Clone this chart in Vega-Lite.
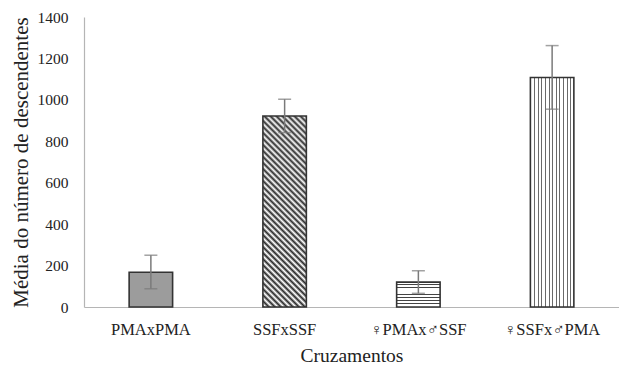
{
  "$schema": "https://vega.github.io/schema/vega-lite/v6.json",
  "autosize": "none",
  "width": 535,
  "height": 290,
  "padding": {"left": 84, "top": 17, "right": 0, "bottom": 58},
  "background": "white",
  "data": {"values": [
    {"c": "PMAxPMA", "mean": 168, "lo": 88, "hi": 250},
    {"c": "SSFxSSF", "mean": 922, "lo": 842, "hi": 1003},
    {"c": "♀PMAx♂SSF", "mean": 120, "lo": 66, "hi": 175},
    {"c": "♀SSFx♂PMA", "mean": 1108, "lo": 955, "hi": 1262}
  ]},
  "config": {
    "view": {"stroke": null},
    "font": "Liberation Serif",
    "axis": {"labelFont": "Liberation Serif, DejaVu Serif, DejaVu Sans", "titleFont": "Liberation Serif", "labelColor": "#222", "titleColor": "#222", "titleFontWeight": "normal", "domainColor": "#b5b5b5", "domainWidth": 1.2, "ticks": false, "grid": false}
  },
  "encoding": {
    "x": {"field": "c", "type": "nominal", "sort": null,
      "scale": {"paddingInner": 0.675, "paddingOuter": 0.3375},
      "axis": {"title": "Cruzamentos", "labelAngle": 0, "labelFont": "Liberation Serif, DejaVu Serif, DejaVu Sans", "labelFontSize": 16.5, "labelBaseline": "alphabetic", "labelPadding": 27, "titleFont": "Liberation Serif", "titleFontSize": 19.5, "titleBaseline": "alphabetic", "titleY": 54}}
  },
  "layer": [
    {
      "mark": {"type": "bar", "stroke": "#333", "strokeWidth": 1.6},
      "encoding": {
        "y": {"field": "mean", "type": "quantitative",
          "scale": {"domain": [0, 1400], "nice": false},
          "axis": {"values": [0, 200, 400, 600, 800, 1000, 1200, 1400], "format": "d", "labelFont": "Liberation Serif", "labelFontSize": 15.5, "labelPadding": 16, "title": "Média do número de descendentes", "titleFont": "Liberation Serif", "titleFontSize": 21, "titleAngle": -90, "titleX": -57, "titleY": 145, "titleBaseline": "alphabetic", "titleAlign": "center"}},
        "fill": {
          "condition": [
            {"test": "datum.c === 'SSFxSSF'", "value": {"gradient": "linear", "x1": 0, "y1": 1, "x2": 0.2658, "y2": -0.1672, "stops": [
              {"offset": 0, "color": "#2a2a2a"}, {"offset": 0.0128, "color": "#ffffff"},
              {"offset": 0.0256, "color": "#2a2a2a"}, {"offset": 0.0385, "color": "#ffffff"},
              {"offset": 0.0513, "color": "#2a2a2a"}, {"offset": 0.0641, "color": "#ffffff"},
              {"offset": 0.0769, "color": "#2a2a2a"}, {"offset": 0.0897, "color": "#ffffff"},
              {"offset": 0.1026, "color": "#2a2a2a"}, {"offset": 0.1154, "color": "#ffffff"},
              {"offset": 0.1282, "color": "#2a2a2a"}, {"offset": 0.1410, "color": "#ffffff"},
              {"offset": 0.1538, "color": "#2a2a2a"}, {"offset": 0.1667, "color": "#ffffff"},
              {"offset": 0.1795, "color": "#2a2a2a"}, {"offset": 0.1923, "color": "#ffffff"},
              {"offset": 0.2051, "color": "#2a2a2a"}, {"offset": 0.2179, "color": "#ffffff"},
              {"offset": 0.2308, "color": "#2a2a2a"}, {"offset": 0.2436, "color": "#ffffff"},
              {"offset": 0.2564, "color": "#2a2a2a"}, {"offset": 0.2692, "color": "#ffffff"},
              {"offset": 0.2821, "color": "#2a2a2a"}, {"offset": 0.2949, "color": "#ffffff"},
              {"offset": 0.3077, "color": "#2a2a2a"}, {"offset": 0.3205, "color": "#ffffff"},
              {"offset": 0.3333, "color": "#2a2a2a"}, {"offset": 0.3462, "color": "#ffffff"},
              {"offset": 0.3590, "color": "#2a2a2a"}, {"offset": 0.3718, "color": "#ffffff"},
              {"offset": 0.3846, "color": "#2a2a2a"}, {"offset": 0.3974, "color": "#ffffff"},
              {"offset": 0.4103, "color": "#2a2a2a"}, {"offset": 0.4231, "color": "#ffffff"},
              {"offset": 0.4359, "color": "#2a2a2a"}, {"offset": 0.4487, "color": "#ffffff"},
              {"offset": 0.4615, "color": "#2a2a2a"}, {"offset": 0.4744, "color": "#ffffff"},
              {"offset": 0.4872, "color": "#2a2a2a"}, {"offset": 0.5000, "color": "#ffffff"},
              {"offset": 0.5128, "color": "#2a2a2a"}, {"offset": 0.5256, "color": "#ffffff"},
              {"offset": 0.5385, "color": "#2a2a2a"}, {"offset": 0.5513, "color": "#ffffff"},
              {"offset": 0.5641, "color": "#2a2a2a"}, {"offset": 0.5769, "color": "#ffffff"},
              {"offset": 0.5897, "color": "#2a2a2a"}, {"offset": 0.6026, "color": "#ffffff"},
              {"offset": 0.6154, "color": "#2a2a2a"}, {"offset": 0.6282, "color": "#ffffff"},
              {"offset": 0.6410, "color": "#2a2a2a"}, {"offset": 0.6538, "color": "#ffffff"},
              {"offset": 0.6667, "color": "#2a2a2a"}, {"offset": 0.6795, "color": "#ffffff"},
              {"offset": 0.6923, "color": "#2a2a2a"}, {"offset": 0.7051, "color": "#ffffff"},
              {"offset": 0.7179, "color": "#2a2a2a"}, {"offset": 0.7308, "color": "#ffffff"},
              {"offset": 0.7436, "color": "#2a2a2a"}, {"offset": 0.7564, "color": "#ffffff"},
              {"offset": 0.7692, "color": "#2a2a2a"}, {"offset": 0.7821, "color": "#ffffff"},
              {"offset": 0.7949, "color": "#2a2a2a"}, {"offset": 0.8077, "color": "#ffffff"},
              {"offset": 0.8205, "color": "#2a2a2a"}, {"offset": 0.8333, "color": "#ffffff"},
              {"offset": 0.8462, "color": "#2a2a2a"}, {"offset": 0.8590, "color": "#ffffff"},
              {"offset": 0.8718, "color": "#2a2a2a"}, {"offset": 0.8846, "color": "#ffffff"},
              {"offset": 0.8974, "color": "#2a2a2a"}, {"offset": 0.9103, "color": "#ffffff"},
              {"offset": 0.9231, "color": "#2a2a2a"}, {"offset": 0.9359, "color": "#ffffff"},
              {"offset": 0.9487, "color": "#2a2a2a"}, {"offset": 0.9615, "color": "#ffffff"},
              {"offset": 0.9744, "color": "#2a2a2a"}, {"offset": 0.9872, "color": "#ffffff"},
              {"offset": 1, "color": "#2a2a2a"}
            ]}},
            {"test": "datum.c === '♀SSFx♂PMA'", "value": {"gradient": "linear", "x1": 0, "y1": 0, "x2": 1, "y2": 0, "stops": [
              {"offset": 0, "color": "#6a6a6a"}, {"offset": 0.025, "color": "#6a6a6a"}, {"offset": 0.025, "color": "#ffffff"}, {"offset": 0.0833, "color": "#ffffff"},
              {"offset": 0.0833, "color": "#6a6a6a"}, {"offset": 0.1083, "color": "#6a6a6a"}, {"offset": 0.1083, "color": "#ffffff"}, {"offset": 0.1667, "color": "#ffffff"},
              {"offset": 0.1667, "color": "#6a6a6a"}, {"offset": 0.1917, "color": "#6a6a6a"}, {"offset": 0.1917, "color": "#ffffff"}, {"offset": 0.25, "color": "#ffffff"},
              {"offset": 0.25, "color": "#6a6a6a"}, {"offset": 0.275, "color": "#6a6a6a"}, {"offset": 0.275, "color": "#ffffff"}, {"offset": 0.3333, "color": "#ffffff"},
              {"offset": 0.3333, "color": "#6a6a6a"}, {"offset": 0.3583, "color": "#6a6a6a"}, {"offset": 0.3583, "color": "#ffffff"}, {"offset": 0.4167, "color": "#ffffff"},
              {"offset": 0.4167, "color": "#6a6a6a"}, {"offset": 0.4417, "color": "#6a6a6a"}, {"offset": 0.4417, "color": "#ffffff"}, {"offset": 0.5, "color": "#ffffff"},
              {"offset": 0.5, "color": "#6a6a6a"}, {"offset": 0.525, "color": "#6a6a6a"}, {"offset": 0.525, "color": "#ffffff"}, {"offset": 0.5833, "color": "#ffffff"},
              {"offset": 0.5833, "color": "#6a6a6a"}, {"offset": 0.6083, "color": "#6a6a6a"}, {"offset": 0.6083, "color": "#ffffff"}, {"offset": 0.6667, "color": "#ffffff"},
              {"offset": 0.6667, "color": "#6a6a6a"}, {"offset": 0.6917, "color": "#6a6a6a"}, {"offset": 0.6917, "color": "#ffffff"}, {"offset": 0.75, "color": "#ffffff"},
              {"offset": 0.75, "color": "#6a6a6a"}, {"offset": 0.775, "color": "#6a6a6a"}, {"offset": 0.775, "color": "#ffffff"}, {"offset": 0.8333, "color": "#ffffff"},
              {"offset": 0.8333, "color": "#6a6a6a"}, {"offset": 0.8583, "color": "#6a6a6a"}, {"offset": 0.8583, "color": "#ffffff"}, {"offset": 0.9167, "color": "#ffffff"},
              {"offset": 0.9167, "color": "#6a6a6a"}, {"offset": 0.9417, "color": "#6a6a6a"}, {"offset": 0.9417, "color": "#ffffff"}, {"offset": 1, "color": "#ffffff"}
            ]}},
            {"test": "datum.c === '♀PMAx♂SSF'", "value": {"gradient": "linear", "x1": 0, "y1": 0, "x2": 0, "y2": 1, "stops": [
              {"offset": 0, "color": "#ffffff"}, {"offset": 0.0875, "color": "#ffffff"}, {"offset": 0.0875, "color": "#444444"}, {"offset": 0.125, "color": "#444444"},
              {"offset": 0.125, "color": "#ffffff"}, {"offset": 0.2125, "color": "#ffffff"}, {"offset": 0.2125, "color": "#444444"}, {"offset": 0.25, "color": "#444444"},
              {"offset": 0.25, "color": "#ffffff"}, {"offset": 0.3375, "color": "#ffffff"}, {"offset": 0.3375, "color": "#444444"}, {"offset": 0.375, "color": "#444444"},
              {"offset": 0.375, "color": "#ffffff"}, {"offset": 0.4625, "color": "#ffffff"}, {"offset": 0.4625, "color": "#444444"}, {"offset": 0.5, "color": "#444444"},
              {"offset": 0.5, "color": "#ffffff"}, {"offset": 0.5875, "color": "#ffffff"}, {"offset": 0.5875, "color": "#444444"}, {"offset": 0.625, "color": "#444444"},
              {"offset": 0.625, "color": "#ffffff"}, {"offset": 0.7125, "color": "#ffffff"}, {"offset": 0.7125, "color": "#444444"}, {"offset": 0.75, "color": "#444444"},
              {"offset": 0.75, "color": "#ffffff"}, {"offset": 0.8375, "color": "#ffffff"}, {"offset": 0.8375, "color": "#444444"}, {"offset": 0.875, "color": "#444444"},
              {"offset": 0.875, "color": "#ffffff"}, {"offset": 1, "color": "#ffffff"}
            ]}}
          ],
          "value": "#9c9c9c"
        }
      }
    },
    {
      "mark": {"type": "rule", "color": "#7a7a7a", "strokeWidth": 1.5},
      "encoding": {"y": {"field": "lo", "type": "quantitative"}, "y2": {"field": "hi"}}
    },
    {
      "mark": {"type": "tick", "color": "#7a7a7a", "size": 13, "thickness": 1.5},
      "encoding": {"y": {"field": "hi", "type": "quantitative"}}
    },
    {
      "mark": {"type": "tick", "color": "#7a7a7a", "size": 13, "thickness": 1.5},
      "encoding": {"y": {"field": "lo", "type": "quantitative"}}
    }
  ]
}
